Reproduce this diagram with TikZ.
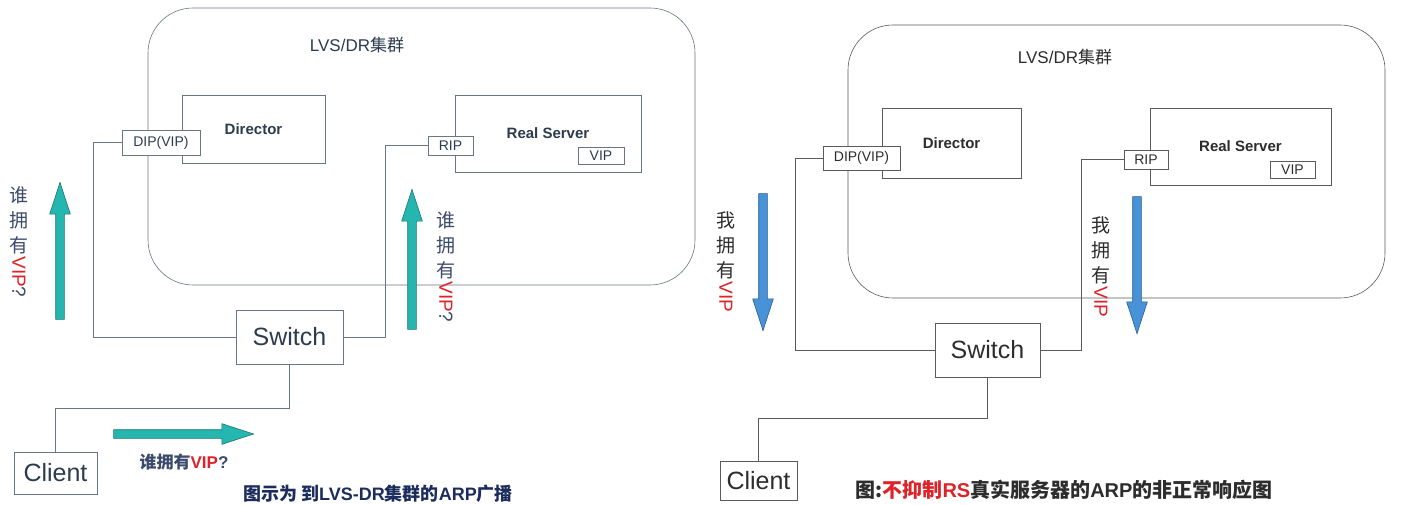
\documentclass[tikz,border=0pt]{standalone}
\usepackage{fontspec}
\setmainfont{Liberation Sans}
\newfontfamily\cjk{Noto Sans CJK SC}
\usetikzlibrary{arrows.meta, positioning, shapes.arrows, calc}
\definecolor{inkc}{RGB}{44,60,78}
\definecolor{wirec}{RGB}{105,118,132}
\definecolor{darkc}{RGB}{45,45,45}
\definecolor{greyc}{RGB}{90,90,90}
\definecolor{tealc}{RGB}{38,182,176}
\definecolor{tealdk}{RGB}{28,118,118}
\definecolor{bluec}{RGB}{72,146,216}
\definecolor{bluedk}{RGB}{40,92,150}
\definecolor{vipred}{RGB}{222,34,40}
\definecolor{navyc}{RGB}{28,44,92}
\definecolor{askc}{RGB}{60,74,108}
\tikzset{
  cluster/.style={draw=wirec, semithick, rounded corners=45pt},
  box/.style={rectangle, draw=wirec, semithick, fill=white, inner sep=0pt, text=inkc},
  port/.style={box, font=\fontsize{14}{16}\selectfont},
  host/.style={box, font=\fontsize{15}{17}\selectfont\bfseries},
  big/.style={box, font=\fontsize{25}{28}\selectfont},
  wire/.style={draw=wirec, semithick},
  title/.style={font=\fontsize{17}{20}\selectfont, text=inkc},
  vlabel/.style={align=center, inner sep=0pt, font=\fontsize{19}{25}\selectfont},
  blockarr/.style={single arrow, inner sep=4pt, minimum width=20pt,
                   single arrow head extend=6pt, single arrow tip angle=36, semithick},
  ask/.style={blockarr, fill=tealc, draw=tealdk},
  claim/.style={blockarr, fill=bluec, draw=bluedk},
  caption/.style={font=\fontsize{18}{20}\selectfont\bfseries},
}
\newcommand{\vipask}{{\cjk 谁}\\{\cjk 拥}\\{\cjk 有}\\[-21pt]\rotatebox{-90}{\textcolor{vipred}{VIP}?}}
\newcommand{\vipown}{{\cjk 我}\\{\cjk 拥}\\{\cjk 有}\\[-21pt]\rotatebox{-90}{\textcolor{vipred}{VIP}}}

\begin{document}
\begin{tikzpicture}[x=1pt, y=-1pt]
  \useasboundingbox[fill=white] (0,0) rectangle (1422,505);

  % ARP broadcast: who has the VIP?
  \draw[cluster] (148,8) rectangle (695,285);
  \node[title] (ltitle) at (357,45) {LVS/DR{\cjk 集群}};
  \node[host, minimum width=143pt, minimum height=68pt] (director) at (253.5,129) {Director};
  \node[port, minimum width=78pt, minimum height=25pt] (dip) at (161,142.5) {DIP(VIP)};
  \node[host, minimum width=186pt, minimum height=77pt] (rserver) at (548,133.5) {Real Server};
  \node[port, minimum width=46pt, minimum height=17pt] (vip) at (601,155.5) {VIP};
  \node[port, minimum width=45pt, minimum height=19pt] (rip) at (450.5,145.5) {RIP};
  \node[big, minimum width=107pt, minimum height=54pt] (switch) at (289.5,337) {Switch};
  \node[big, minimum width=83pt, minimum height=42pt] (client) at (55.5,473) {Client};
  \draw[wire] (dip.west) -- ++(-28,0) |- (switch.west);
  \draw[wire] (switch.east) -- ++(42,0) |- (rip.west);
  \draw[wire] (switch.south) -- ++(0,44) -| (client.north);
  \node[ask, minimum height=137pt, shape border rotate=90] (askl) at (60,257.5) {};
  \node[ask, minimum height=140pt, shape border rotate=90] (askr) at (412,266) {};
  \node[ask, minimum height=140pt] (askc) at (177,434) {};
  \node[vlabel, text=askc] (askltxt) at (19,242) {\vipask};
  \node[vlabel, text=askc] (askrtxt) at (446,267) {\vipask};
  \node[font=\fontsize{17}{19}\selectfont\bfseries, text=askc] (askctxt) at (184,462)
    {{\cjk 谁拥有}\textcolor{vipred}{VIP}?};
  \node[caption, text=navyc] (lcap) at (378,494) {{\cjk 图示为 到}LVS-DR{\cjk 集群的}ARP{\cjk 广播}};

  % RS not suppressed: both answer
  \begin{scope}[box/.append style={draw=greyc, text=darkc}, wire/.append style={draw=greyc},
                title/.append style={text=darkc}]
  \draw[cluster, draw=greyc] (848,25) rectangle (1385,298);
  \node[title] (rtitle) at (1065,57) {LVS/DR{\cjk 集群}};
  \node[host, minimum width=139pt, minimum height=70pt] (rdirector) at (951.5,143) {Director};
  \node[port, minimum width=77pt, minimum height=24pt] (rdip) at (861.5,158) {DIP(VIP)};
  \node[host, minimum width=181pt, minimum height=77pt] (rrserver) at (1240.5,146.5) {Real Server};
  \node[port, minimum width=45pt, minimum height=17pt] (rvip) at (1292.5,169.5) {VIP};
  \node[port, minimum width=44pt, minimum height=19pt] (rrip) at (1146,159.5) {RIP};
  \node[big, minimum width=105pt, minimum height=54pt] (rswitch) at (987.5,350) {Switch};
  \node[big, minimum width=77pt, minimum height=39pt] (rclient) at (758.5,480.5) {Client};
  \draw[wire] (rdip.west) -- ++(-27,0) |- (rswitch.west);
  \draw[wire] (rswitch.east) -- ++(41,0) |- (rrip.west);
  \draw[wire] (rswitch.south) -- ++(0,41) -| (rclient.north);
  \end{scope}
  \node[claim, minimum height=137pt, shape border rotate=270] (ownl) at (763,255.5) {};
  \node[claim, minimum height=137pt, shape border rotate=270] (ownr) at (1137,258.5) {};
  \node[vlabel, text=darkc] (ownltxt) at (726,262) {\vipown};
  \node[vlabel, text=darkc] (ownrtxt) at (1101,267) {\vipown};
  \node[caption, font=\fontsize{20}{22}\selectfont\bfseries, text=darkc] (rcap) at (1064,490)
    {{\cjk 图:\textcolor{vipred}{不抑制}}\textcolor{vipred}{RS}{\cjk 真实服务器的}ARP{\cjk 的非正常响应图}};
\end{tikzpicture}
\end{document}
